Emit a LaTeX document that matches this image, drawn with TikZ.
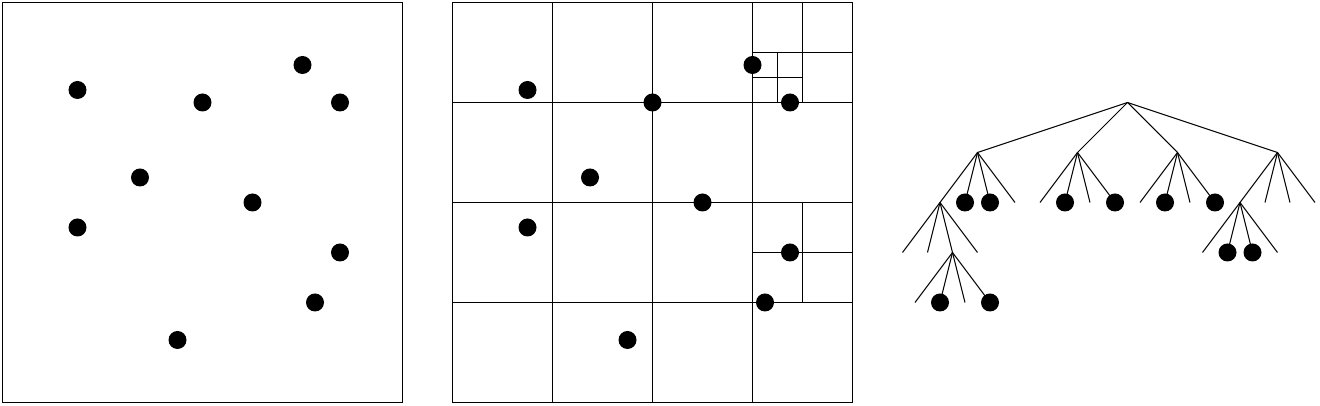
\documentclass[tikz,border=0pt]{standalone}
\usepackage{tikz}
\usetikzlibrary{calc}

\begin{document}
\begin{tikzpicture}[
    pt/.style={circle, fill=black, inner sep=0pt, minimum size=0.36cm},
    frame/.style={line width=0.6pt},
    edge/.style={line width=0.6pt},
]
\useasboundingbox (-0.05,-0.07) rectangle (26.35,8.05);

% Panel 1: point set
\draw[frame] (0,0) rectangle (8,8);
\foreach \px/\py [count=\i] in {1.5/6.25, 4/6, 6/6.75, 6.75/6, 2.75/4.5, 5/4, 1.5/3.5, 6.75/3, 6.25/2, 3.5/1.25} {
    \node[pt] (a\i) at (\px,\py) {};
}

% Panel 2: quadtree cells
\begin{scope}[xshift=9cm]
\draw[frame] (0,0) rectangle (8,8);
\foreach \c in {2,4,6} {
    \draw[frame] (\c,0) -- (\c,8);
    \draw[frame] (0,\c) -- (8,\c);
}
\draw[frame] (7,6) -- (7,8);
\draw[frame] (6,7) -- (8,7);
\draw[frame] (6.5,6) -- (6.5,7);
\draw[frame] (6,6.5) -- (7,6.5);
\draw[frame] (7,2) -- (7,4);
\draw[frame] (6,3) -- (8,3);
\foreach \px/\py [count=\i] in {1.5/6.25, 4/6, 6/6.75, 6.75/6, 2.75/4.5, 5/4, 1.5/3.5, 6.75/3, 6.25/2, 3.5/1.25} {
    \node[pt] (b\i) at (\px,\py) {};
}
\end{scope}

% Panel 3: the tree
\coordinate (root) at (22.5,6);
\foreach \p/\s in {root/1, root-1/0.25, root-2/0.25, root-3/0.25, root-4/0.25, root-1-1/0.25, root-1-1-3/0.25, root-4-1/0.25} {
    \foreach \o [count=\j] in {-3,-1,1,3} {
        \coordinate (\p-\j) at ($(\p)+({\s*\o},-1)$);
        \draw[edge] (\p) -- (\p-\j);
    }
}
\foreach \leaf in {root-1-2, root-1-3, root-1-1-3-2, root-1-1-3-4, root-2-2, root-2-4, root-3-2, root-3-4, root-4-1-2, root-4-1-3} {
    \node[pt] (dot-\leaf) at (\leaf) {};
}

\end{tikzpicture}
\end{document}
